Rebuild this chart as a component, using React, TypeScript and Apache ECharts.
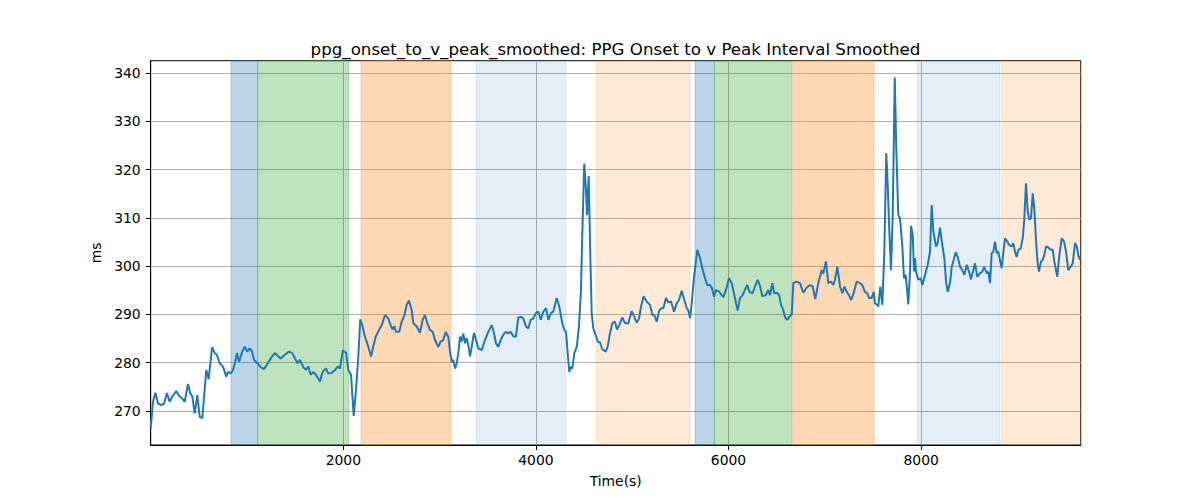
import React, { useEffect, useRef } from "react";
import * as echarts from "echarts";

const times = [
  0, 24, 48, 76, 110, 138, 169, 197, 224, 266, 301, 328, 353, 387, 411, 432, 457, 484, 509, 536,
  543, 577, 602, 637, 665, 688, 717, 751, 785, 803, 831, 855, 878, 896, 917, 951, 976, 1003, 1028, 1052,
  1073, 1107, 1142, 1177, 1211, 1246, 1288, 1322, 1350, 1391, 1436, 1470, 1498, 1526, 1550, 1585, 1613, 1637, 1661, 1688,
  1716, 1758, 1786, 1820, 1844, 1880, 1914, 1942, 1966, 1994, 2028, 2052, 2080, 2108, 2132, 2156, 2176, 2197, 2225, 2260,
  2288, 2311, 2336, 2371, 2399, 2433, 2467, 2495, 2513, 2530, 2547, 2581, 2606, 2633, 2658, 2682, 2710, 2727, 2762, 2796,
  2824, 2848, 2872, 2900, 2928, 2952, 2986, 3011, 3038, 3063, 3090, 3108, 3126, 3142, 3160, 3178, 3194, 3212, 3229, 3246,
  3264, 3281, 3298, 3316, 3333, 3357, 3378, 3402, 3437, 3471, 3506, 3541, 3565, 3586, 3609, 3634, 3661, 3689, 3713, 3738,
  3765, 3793, 3817, 3845, 3869, 3897, 3921, 3946, 3973, 4001, 4025, 4050, 4077, 4105, 4129, 4157, 4181, 4216, 4243, 4274,
  4295, 4313, 4330, 4347, 4364, 4378, 4399, 4424, 4447, 4468, 4482, 4502, 4520, 4531, 4548, 4562, 4579, 4596, 4614, 4642,
  4666, 4689, 4725, 4745, 4769, 4793, 4821, 4842, 4866, 4897, 4925, 4959, 4995, 5022, 5047, 5071, 5091, 5119, 5150, 5185,
  5209, 5229, 5254, 5278, 5299, 5323, 5351, 5375, 5403, 5434, 5462, 5486, 5514, 5541, 5566, 5583, 5601, 5618, 5642, 5676,
  5704, 5732, 5756, 5780, 5808, 5829, 5850, 5871, 5904, 5946, 5974, 6005, 6033, 6067, 6095, 6119, 6147, 6171, 6195, 6216,
  6251, 6275, 6303, 6327, 6351, 6386, 6413, 6431, 6455, 6475, 6500, 6527, 6545, 6569, 6587, 6610, 6639, 6656, 6673, 6708,
  6742, 6777, 6812, 6846, 6874, 6901, 6932, 6968, 6984, 7012, 7036, 7064, 7088, 7106, 7130, 7158, 7182, 7202, 7227, 7251,
  7272, 7296, 7331, 7365, 7389, 7417, 7441, 7459, 7487, 7508, 7521, 7545, 7555, 7576, 7597, 7618, 7638, 7653, 7670, 7687,
  7705, 7726, 7742, 7763, 7781, 7805, 7822, 7840, 7867, 7885, 7895, 7913, 7926, 7937, 7947, 7971, 7996, 8013, 8041, 8069,
  8092, 8110, 8127, 8155, 8172, 8196, 8220, 8241, 8259, 8276, 8300, 8318, 8334, 8359, 8380, 8404, 8428, 8449, 8474, 8497,
  8518, 8542, 8560, 8583, 8611, 8635, 8656, 8681, 8698, 8715, 8733, 8750, 8767, 8785, 8801, 8819, 8837, 8853, 8871, 8895,
  8916, 8941, 8957, 8975, 8992, 9009, 9034, 9055, 9071, 9089, 9107, 9123, 9141, 9159, 9175, 9193, 9210, 9224, 9245, 9262,
  9279, 9297, 9321, 9346, 9366, 9383, 9401, 9414, 9435, 9460, 9484, 9505, 9528, 9553, 9574, 9598, 9616, 9632, 9650,
];

const values = [
  266.5, 271.9, 273.8, 271.6, 271.2, 271.5, 273.7, 271.9, 273.0, 274.1, 273.0, 272.6, 271.9, 275.6, 273.7, 273.0, 269.5, 273.3, 268.8, 268.5,
  270.2, 278.5, 276.6, 283.2, 282.0, 281.6, 279.9, 279.2, 277.1, 278.1, 277.8, 278.5, 280.2, 282.0, 280.2, 282.3, 283.3, 282.3, 283.0, 282.3,
  280.6, 279.9, 279.1, 278.7, 279.7, 280.9, 282.0, 281.4, 280.9, 281.6, 282.3, 282.0, 280.9, 279.9, 280.6, 279.1, 278.5, 279.2, 277.5, 278.1,
  277.5, 276.1, 278.1, 278.8, 277.8, 277.9, 278.5, 279.2, 278.8, 282.5, 282.1, 278.5, 277.5, 269.0, 274.4, 281.3, 289.0, 287.8, 285.4, 283.3,
  281.3, 283.3, 285.4, 286.8, 287.8, 289.9, 289.2, 287.6, 286.9, 287.6, 286.4, 286.4, 288.5, 289.7, 292.0, 292.9, 290.9, 288.2, 287.5, 286.2,
  288.9, 289.9, 288.2, 286.8, 286.4, 284.7, 283.3, 284.4, 284.7, 286.4, 285.4, 282.3, 280.2, 280.6, 278.8, 279.9, 282.0, 285.4, 284.4, 286.0,
  284.0, 285.1, 283.7, 281.3, 283.3, 286.2, 284.7, 283.0, 282.6, 284.7, 286.4, 287.8, 286.1, 284.0, 283.3, 284.7, 285.8, 286.4, 286.1, 286.4,
  285.5, 285.4, 289.4, 289.5, 289.2, 287.5, 287.1, 288.9, 289.2, 290.3, 290.6, 288.9, 290.6, 291.3, 288.9, 290.3, 290.6, 293.4, 291.6, 288.2,
  286.8, 286.4, 282.0, 278.1, 279.2, 278.8, 282.0, 283.3, 287.5, 295.1, 306.8, 321.3, 315.8, 310.6, 318.7, 304.8, 290.3, 287.1, 286.1, 284.4,
  284.2, 282.8, 282.3, 283.3, 286.1, 288.2, 288.5, 286.9, 287.8, 289.4, 288.2, 288.2, 290.7, 289.5, 288.3, 289.2, 291.6, 293.8, 292.7, 292.0,
  289.9, 289.9, 288.5, 290.6, 291.3, 291.3, 293.4, 292.5, 292.7, 290.6, 292.3, 293.0, 294.9, 293.0, 291.3, 290.8, 289.2, 292.3, 297.8, 303.4,
  301.7, 299.2, 297.5, 296.1, 296.1, 295.4, 293.7, 295.1, 294.7, 293.6, 295.1, 297.5, 296.5, 293.4, 290.8, 293.4, 294.0, 295.1, 296.1, 294.7,
  294.4, 295.8, 297.2, 295.9, 293.8, 294.0, 295.1, 294.0, 296.5, 294.4, 294.5, 294.0, 292.0, 290.9, 289.4, 288.9, 289.7, 289.9, 296.5, 296.8,
  296.5, 294.5, 295.6, 296.1, 295.8, 293.2, 296.5, 299.2, 298.5, 301.0, 296.5, 296.8, 296.1, 297.2, 299.9, 295.8, 294.4, 295.8, 294.7, 294.0,
  293.0, 294.2, 296.8, 296.5, 296.1, 294.7, 294.4, 293.4, 293.4, 294.7, 292.3, 292.0, 291.6, 295.8, 292.0, 303.0, 323.4, 316.8, 307.2, 299.2,
  310.6, 339.1, 324.5, 310.6, 309.9, 304.1, 297.5, 298.2, 292.1, 298.9, 308.4, 306.5, 298.9, 301.7, 298.9, 297.2, 297.5, 296.1, 298.2, 300.3,
  303.0, 312.7, 307.2, 304.1, 304.8, 308.0, 304.4, 301.7, 296.8, 294.7, 296.5, 299.9, 301.0, 302.9, 301.9, 299.9, 299.2, 298.2, 300.3, 298.9,
  297.3, 299.2, 300.6, 297.8, 298.5, 298.9, 299.9, 298.5, 298.9, 296.5, 302.7, 303.0, 305.1, 302.7, 303.0, 301.3, 299.6, 302.7, 305.8, 305.1,
  304.4, 304.1, 304.8, 303.0, 301.9, 303.4, 303.7, 305.8, 309.6, 317.2, 311.3, 309.6, 310.0, 315.1, 312.0, 305.4, 300.6, 298.9, 301.0, 301.3,
  302.3, 304.1, 303.9, 303.4, 303.5, 301.0, 299.2, 297.8, 302.3, 305.8, 305.1, 303.0, 299.2, 299.9, 300.6, 304.8, 304.1, 302.3, 301.3,
];

const bandStarts = [834, 1111, 2184, 3378, 4624, 5652, 5853, 6667, 7957, 8837];
const bandEnds = [1111, 2056, 3115, 4309, 5600, 5853, 6656, 7511, 8819, 9657];
const bandColors = [
  "rgba(31,119,180,0.3)",
  "rgba(44,160,44,0.3)",
  "rgba(255,127,14,0.3)",
  "rgba(31,119,180,0.12)",
  "rgba(255,127,14,0.16)",
  "rgba(31,119,180,0.3)",
  "rgba(44,160,44,0.3)",
  "rgba(255,127,14,0.3)",
  "rgba(31,119,180,0.12)",
  "rgba(255,127,14,0.16)",
];

const xTicks = [2000, 4000, 6000, 8000];
const yTicks = [270, 280, 290, 300, 310, 320, 330, 340];

const X_MIN = 0;
const X_MAX = 9657;
const Y_MIN = 262.95;
const Y_MAX = 342.6;

const FONT = "DejaVu Sans";

export default function App() {
  const ref = useRef<HTMLDivElement>(null);

  useEffect(() => {
    document.body.style.margin = "0";
    const chart = echarts.init(ref.current as HTMLDivElement, null, { renderer: "svg" });
    const lineData = times.map((t, i) => [t, values[i]]);
    const areas = bandStarts.map((s, i) => [
      {
        xAxis: s,
        itemStyle: { color: bandColors[i], borderColor: bandColors[i], borderWidth: 1 },
      },
      { xAxis: bandEnds[i] },
    ]);

    chart.setOption({
      animation: false,
      backgroundColor: "#ffffff",
      title: {
        text: "ppg_onset_to_v_peak_smoothed: PPG Onset to v Peak Interval Smoothed",
        left: 610.5,
        top: 36,
        textAlign: "center",
        textStyle: { fontFamily: FONT, fontSize: 16.67, fontWeight: "normal", color: "#000" },
      },
      grid: {
        left: 150.7,
        right: 119.3,
        top: 60.7,
        bottom: 55,
        show: true,
        borderColor: "#000",
        borderWidth: 1,
        backgroundColor: "transparent",
        containLabel: false,
      },
      xAxis: {
        type: "value",
        min: X_MIN,
        max: X_MAX,
        name: "Time(s)",
        nameLocation: "middle",
        nameGap: 29,
        nameTextStyle: { fontFamily: FONT, fontSize: 13.9, color: "#000" },
        axisLine: { show: true, lineStyle: { color: "#000", width: 1 } },
        axisTick: { show: true, length: 5, customValues: xTicks, lineStyle: { color: "#000", width: 1 } },
        axisLabel: {
          customValues: xTicks,
          formatter: (v: number) => String(v),
          color: "#000",
          fontFamily: FONT,
          fontSize: 13.9,
          margin: 8,
        },
        splitLine: { show: true, lineStyle: { color: "#b0b0b0", width: 1 } },
      },
      yAxis: {
        type: "value",
        min: Y_MIN,
        max: Y_MAX,
        name: "ms",
        nameLocation: "middle",
        nameGap: 40,
        nameTextStyle: { fontFamily: FONT, fontSize: 13.9, color: "#000" },
        axisLine: { show: true, lineStyle: { color: "#000", width: 1 } },
        axisTick: { show: true, length: 5, customValues: yTicks, lineStyle: { color: "#000", width: 1 } },
        axisLabel: {
          customValues: yTicks,
          formatter: (v: number) => String(v),
          color: "#000",
          fontFamily: FONT,
          fontSize: 13.9,
          margin: 10,
        },
        splitLine: { show: true, lineStyle: { color: "#b0b0b0", width: 1 } },
      },
      series: [
        {
          type: "line",
          data: lineData,
          showSymbol: false,
          symbol: "none",
          lineStyle: { color: "#1f77b4", width: 2 },
          itemStyle: { color: "#1f77b4" },
          silent: true,
          z: 3,
          markArea: {
            silent: true,
            data: areas,
          },
        },
      ],
    });
    return () => chart.dispose();
  }, []);

  return <div ref={ref} style={{ width: 1200, height: 500 }} />;
}
